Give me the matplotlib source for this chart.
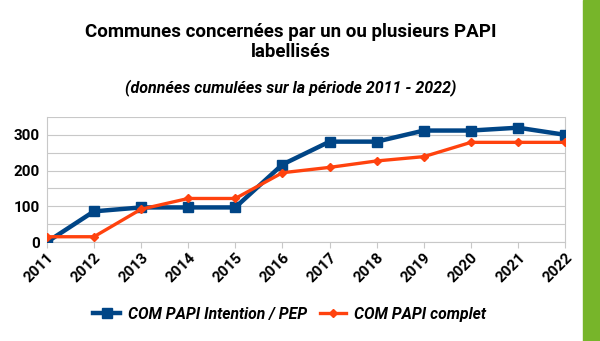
import matplotlib
matplotlib.use("Agg")
import matplotlib.pyplot as plt
from matplotlib.patches import Rectangle

years = ["2011", "2012", "2013", "2014", "2015", "2016", "2017", "2018", "2019", "2020", "2021", "2022"]
intention_pep = [0, 86, 97, 97, 97, 217, 281, 281, 312, 312, 320, 300]
complet = [15, 15, 92, 122, 122, 194, 209, 227, 239, 279, 279, 279]

plt.rcParams['font.family'] = ['Roboto', 'DejaVu Sans']

fig = plt.figure(figsize=(6, 3.41), dpi=100)
ax = fig.add_axes([0.078, 0.290, 0.864, 0.367])

x = range(len(years))
ax.plot(x, intention_pep, color="#004586", lw=3.2, marker="s", ms=7,
        label="COM PAPI Intention / PEP", zorder=3)
ax.plot(x, complet, color="#ff420e", lw=2.4, marker="D", ms=4.5,
        label="COM PAPI complet", zorder=3)

ax.set_xlim(0, len(years) - 1)
ax.set_ylim(0, 350)
ax.set_yticks([0, 100, 200, 300])
ax.set_yticks(range(0, 351, 50), minor=True)
ax.grid(True, axis="y", which="both", color="#c8c8c8", lw=0.8)
ax.tick_params(axis="y", which="both", length=0, pad=5)
ax.set_xticks(list(x))
ax.set_xticklabels(years, rotation=45, ha="right", rotation_mode="anchor")
ax.tick_params(axis="x", length=4, color="#c8c8c8", pad=2)
for lab in ax.get_xticklabels() + ax.get_yticklabels():
    lab.set_fontweight("bold")
    lab.set_fontsize(11)
for s in ["left", "right", "top"]:
    ax.spines[s].set_color("#c8c8c8")
    ax.spines[s].set_linewidth(0.8)
ax.spines["top"].set_visible(False)
ax.spines["bottom"].set_color("#c8c8c8")
ax.spines["bottom"].set_linewidth(0.8)

fig.text(0.485, 0.877, "Communes concernées par un ou plusieurs PAPI\nlabellisés",
         ha="center", va="center", fontsize=13.5, fontweight="bold", linespacing=1.15)
fig.text(0.485, 0.742, "(données cumulées sur la période 2011 - 2022)",
         ha="center", va="center", fontsize=11.5, fontweight="bold", style="italic")

leg = fig.legend(loc="center", bbox_to_anchor=(0.483, 0.078), ncol=2, frameon=False,
                 prop={"weight": "bold", "style": "italic", "size": 11.3},
                 handlelength=1.7, columnspacing=0.8, handletextpad=0.5)

fig.add_artist(Rectangle((0.972, 0), 0.028, 1, transform=fig.transFigure,
                         color="#77b52a", zorder=0))

fig.savefig("out.png", dpi=100)
